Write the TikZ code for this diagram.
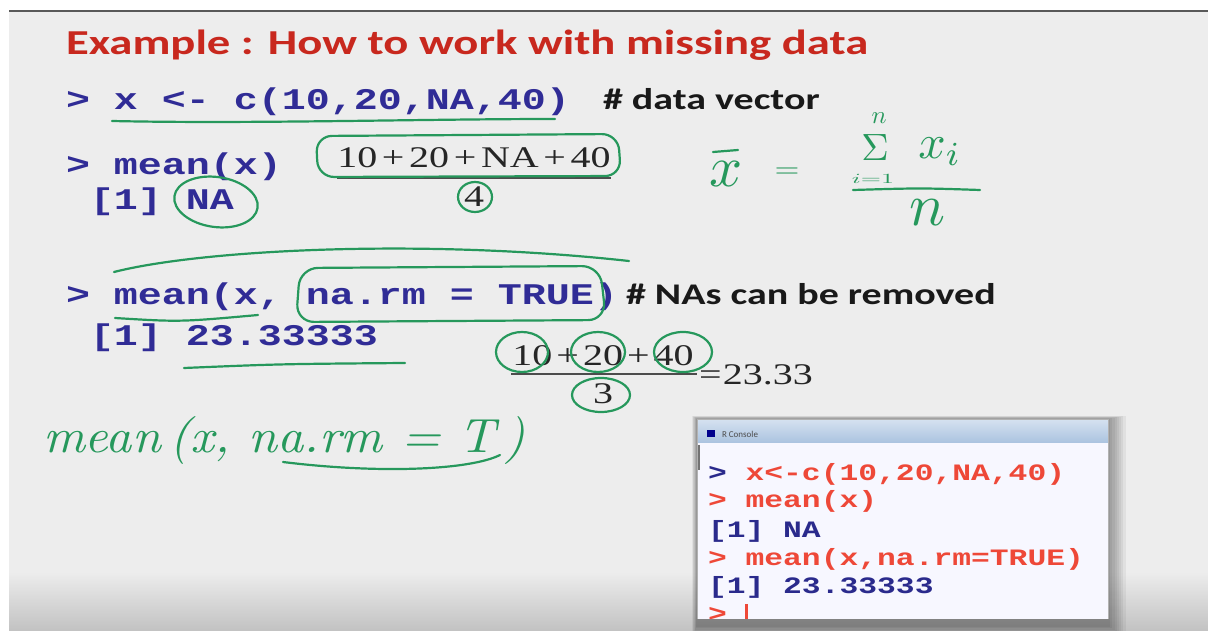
\documentclass[tikz,border=0pt]{standalone}
\usepackage{fontspec}
\usepackage{graphicx}
\newfontfamily\carl{Carlito}
\newfontfamily\mono{Liberation Mono}
\newfontfamily\tms{Liberation Serif}
\newcommand\sx[1]{\scalebox{1.333}[1]{#1}}
\definecolor{slidebg}{RGB}{237,237,237}
\definecolor{titlered}{RGB}{200,40,30}
\definecolor{codeblue}{RGB}{48,44,150}
\definecolor{inkgreen}{RGB}{38,152,92}
\definecolor{conred}{RGB}{238,72,56}
\definecolor{conblue}{RGB}{42,42,140}
\definecolor{bartop}{RGB}{214,226,240}
\definecolor{barbot}{RGB}{172,196,224}
\tikzset{
  txt/.style={anchor=base west, inner sep=0pt, outer sep=0pt},
  ctxt/.style={anchor=base, inner sep=0pt, outer sep=0pt},
  ink/.style={draw=inkgreen, line width=2.2pt, line cap=round, line join=round},
  codefont/.style={font=\mono\bfseries\fontsize{30}{34}\selectfont, text=codeblue},
  cmtfont/.style={font=\carl\bfseries\fontsize{30}{34}\selectfont, text=black!90},
  serfont/.style={font=\tms\fontsize{30}{34}\selectfont, text=black!85},
  confont/.style={font=\mono\bfseries\fontsize{23.5}{26}\selectfont},
  hand/.style={text=inkgreen, inner sep=0pt, outer sep=0pt},
}
\begin{document}
\begin{tikzpicture}[x=1pt,y=-1pt]
\useasboundingbox (0,0) rectangle (1208,631);
% page and slide background
\fill[white] (0,0) rectangle (1208,631);
\fill[slidebg] (9,11) rectangle (1208,631);
\shade[top color=slidebg, bottom color=black!24] (9,572) rectangle (1208,631);
\fill[black!65] (9,10) rectangle (1208,12);

% title
\node[txt, text=titlered, font=\carl\bfseries\fontsize{35}{40}\selectfont] (title) at (66,55) {\sx{Example : How to work with missing data}};

% line 1
\node[txt, codefont] (l1) at (66,110) {\sx{> x <- c(10,20,NA,40)}};
\node[txt, cmtfont] (c1) at (603,110) {\sx{\# data vector}};
\coordinate (u1a) at (112,121);
\coordinate (u1b) at (555,119);
\draw[ink] (u1a) .. controls (250,124) and (420,119) .. (u1b);

% mean(x)
\node[txt, codefont] (l2) at (66,175) {\sx{> mean(x)}};
\node[txt, codefont] (l3) at (90,210) {\sx{[1] NA}};
\draw[ink, rotate around={-8:(216,202)}] (216,202) ellipse (42 and 25);

% fraction 1
\node[ctxt, serfont] (num1) at (474,168) {\sx{10\kern3.5pt+\kern3.5pt20\kern3.5pt+\kern3.5pt NA\kern3.5pt+\kern3.5pt40}};
\node[ctxt, serfont] (den1) at (474,207) {\sx{4}};
\draw[black!70, line width=1.6pt] (num1.base west |- 0,178) -- (num1.base east |- 0,178);
\draw[ink, rounded corners=16pt] (316,136) -- (618,134) -- (621,176) -- (318,177) -- cycle;
\draw[ink] (475,197) ellipse (17 and 15);

% arc
\coordinate (arcA) at (114,272);
\coordinate (arcB) at (629,261);
\draw[ink] (arcA) .. controls (200,250) and (420,238) .. (arcB);

% mean(x, na.rm = TRUE)
\node[txt, codefont] (l4) at (66,305) {\sx{> mean(x, na.rm = TRUE)}};
\node[txt, cmtfont] (c2) at (626,305) {\sx{\# NAs can be removed}};
\draw[ink] (115,318) .. controls (180,322) .. (258,315);
\draw[ink, rounded corners=18pt] (300,268) -- (600,266) -- (606,320) -- (296,322) -- cycle;

% [1] 23.33333
\node[txt, codefont] (l5) at (90,345) {\sx{[1] 23.33333}};
\draw[ink] (184,368) .. controls (280,364) .. (405,363);

% fraction 2
\node[ctxt, serfont] (num2) at (603,365) {\sx{10\kern3pt+\kern3pt20\kern3pt+\kern3pt40}};
\node[ctxt, serfont] (den2) at (603,403) {\sx{3}};
\draw[black!70, line width=1.6pt] (511,374) -- (697,374);
\node[txt, serfont] (res2) at (699,384) {\sx{=\kern1pt23.33}};
\draw[ink] (522,352) ellipse (26 and 20);
\draw[ink] (598,352) ellipse (27 and 20);
\draw[ink] (683,352) ellipse (29 and 20);
\draw[ink] (601,395) ellipse (29 and 17);

% handwritten formula
\node[hand, anchor=base] (xbar) at (726,187) {\scalebox{5.8}{$x$}};
\draw[ink] (713,152) -- (738,150);
\node[hand] (eq) at (787,173) {\scalebox{3.2}[2.6]{$=$}};
\node[hand] (sig) at (875,148) {\scalebox{3.8}{$\Sigma$}};
\node[hand] (supn) at (879,118) {\scalebox{2.5}{$n$}};
\node[hand] (subi) at (873,179) {\scalebox{2.6}[1.4]{$i{=}1$}};
\node[hand] (xi) at (940,152) {\scalebox{4.8}{$x_i$}};
\draw[ink] (853,190) .. controls (920,188) .. (980,190);
\node[hand] (den) at (927,213) {\scalebox{6}{$n$}};

% handwritten mean(x, na.rm = T)
\node[hand, anchor=base west] (hw) at (43,452) {\resizebox{482pt}{36pt}{\itshape mean\,(x,\ na.rm = T\,)}};
\draw[ink] (283,462) .. controls (380,474) and (470,470) .. (500,455);

% R console window
\foreach \i in {1,...,8}{
  \fill[black, opacity=0.05] (697-\i*0.6,419-\i*0.4) rectangle (1108+\i*2.2,625+\i*1.5);
}
\begin{scope}
\clip (690,410) rectangle (1130,618);
\fill[white!97!blue] (697,419) rectangle (1108,630);
\shade[top color=bartop, bottom color=barbot] (697,419) rectangle (1108,442);
\draw[black!30, line width=0.6pt] (697,419) rectangle (1108,630);
\fill[blue!55!black] (707,430) rectangle (715,437);
\node[txt, font=\carl\fontsize{9}{10}\selectfont, text=black!70] (ctitle) at (722,437) {R Console};
\fill[black!55] (697.5,445) rectangle (700,470);
\node[txt, confont] (k1) at (708,480) {\sx{\textcolor{conblue}{>} \textcolor{conred}{x<-c(10,20,NA,40)}}};
\node[txt, confont, text=conred] (k2) at (708,507) {\sx{> mean(x)}};
\node[txt, confont, text=conblue] (k3) at (708,537) {\sx{[1] NA}};
\node[txt, confont, text=conred] (k4) at (708,565) {\sx{> mean(x,na.rm=TRUE)}};
\node[txt, confont, text=conblue] (k5) at (708,593) {\sx{[1] 23.33333}};
\node[txt, confont, text=conred] (k6) at (708,621) {\sx{>}};
\fill[conred] (745,604) rectangle (748,620);
\end{scope}
\end{tikzpicture}
\end{document}
